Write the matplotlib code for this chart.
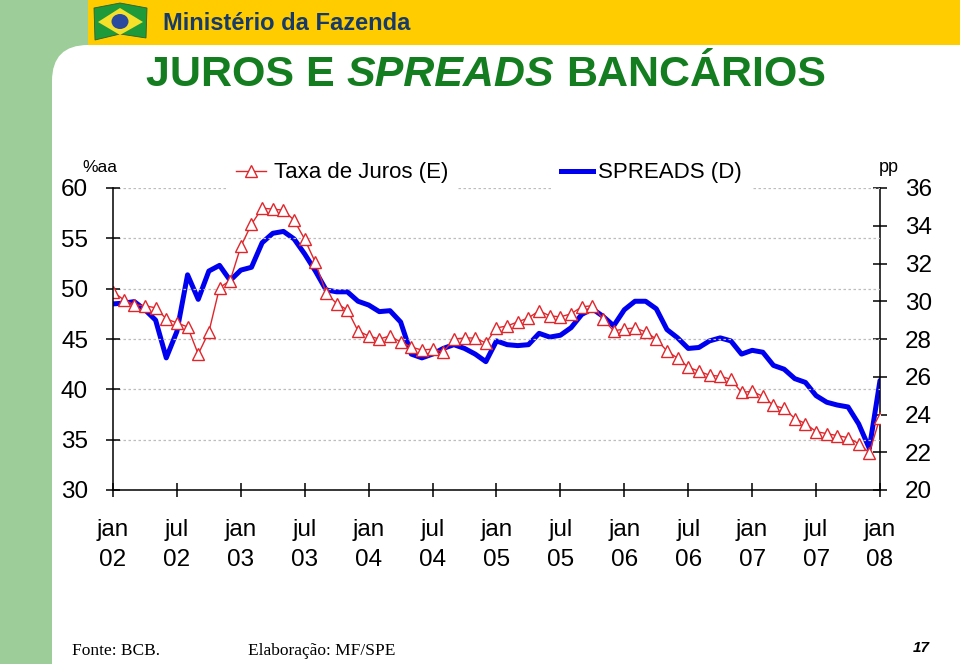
import numpy as np
import matplotlib
matplotlib.use("Agg")
import matplotlib.pyplot as plt
from matplotlib.patches import Rectangle, FancyBboxPatch, Polygon, Ellipse
from matplotlib.lines import Line2D

plt.rcParams['font.family'] = ['Liberation Sans', 'DejaVu Sans']

# monthly series, jan/02 ... jan/08
taxa_juros = [49.7, 48.9, 48.4, 48.3, 48.1, 47.0, 46.6, 46.2, 43.5, 45.7,
              50.1, 50.8, 54.2, 56.4, 58.0, 57.9, 57.8, 56.8, 54.9, 52.6,
              49.6, 48.5, 47.9, 45.8, 45.3, 45.0, 45.3, 44.7, 44.2, 43.9,
              44.0, 43.7, 45.0, 45.1, 45.1, 44.6, 46.1, 46.3, 46.7, 47.1,
              47.8, 47.3, 47.2, 47.5, 48.2, 48.3, 47.0, 45.8, 46.0, 46.1,
              45.7, 45.0, 43.8, 43.1, 42.2, 41.8, 41.4, 41.3, 41.0, 39.7,
              39.8, 39.3, 38.4, 38.1, 37.1, 36.6, 35.8, 35.6, 35.4, 35.2,
              34.6, 33.7, 37.2]
spreads = [29.86, 29.9, 29.98, 29.55, 29.0, 27.0, 28.4, 31.4, 30.1, 31.6,
           31.9, 31.1, 31.65, 31.8, 33.1, 33.6, 33.7, 33.3, 32.5, 31.6,
           30.6, 30.5, 30.5, 30.0, 29.8, 29.45, 29.5, 28.9, 27.2, 27.0,
           27.2, 27.5, 27.7, 27.5, 27.2, 26.8, 27.9, 27.7, 27.65, 27.7,
           28.3, 28.1, 28.2, 28.6, 29.3, 29.6, 29.2, 28.7, 29.55, 30.0,
           30.0, 29.6, 28.5, 28.06, 27.5, 27.55, 27.9, 28.06, 27.9, 27.2,
           27.4, 27.3, 26.6, 26.4, 25.9, 25.7, 25.0, 24.65, 24.5, 24.4,
           23.5, 22.2, 25.8]
tick_labels = ['jan\n02', 'jul\n02', 'jan\n03', 'jul\n03', 'jan\n04', 'jul\n04',
               'jan\n05', 'jul\n05', 'jan\n06', 'jul\n06', 'jan\n07', 'jul\n07',
               'jan\n08']

RED = '#e0262b'
BLUE = '#0000f0'
GREEN_TXT = '#137d1f'

fig = plt.figure(figsize=(9.6, 6.64), dpi=100)

# ---- slide background (pixel coords) ----
bg = fig.add_axes([0, 0, 1, 1], zorder=-1)
bg.set_xlim(0, 960)
bg.set_ylim(664, 0)
bg.axis('off')
bg.add_patch(Rectangle((0, 0), 120, 664, color='#9dcd98', lw=0))
bg.add_patch(FancyBboxPatch((52, 45), 1000, 700, boxstyle='round,pad=0,rounding_size=36',
                            fc='white', ec='none'))
bg.add_patch(Rectangle((88, 0), 872, 45, color='#ffcc00', lw=0))
# little flag
bg.add_patch(Polygon([(94, 8), (120, 3), (147, 8), (146, 38), (120, 34), (95, 40)],
                     closed=True, fc='#1f9a3a', ec='#2f5f2f', lw=0.6))
bg.add_patch(Polygon([(98, 22), (120, 8), (143, 22), (120, 35)], closed=True,
                     fc='#f5e12a', ec='none'))
bg.add_patch(Ellipse((120, 21.5), 17, 15, fc='#2a4aa0', ec='none'))
bg.text(163, 23, 'Ministério da Fazenda', fontsize=17, fontweight='bold',
        color='#173a68', va='center', ha='left')

# title with italic SPREADS
fig.canvas.draw()
r = fig.canvas.get_renderer()
parts = [('JUROS E', 'normal'), ('SPREADS', 'italic'), ('BANCÁRIOS', 'normal')]
gap = 12
texts = []
for s, st in parts:
    t = bg.text(0, 75, s, fontsize=31, fontweight='bold', style=st,
                color=GREEN_TXT, va='center', ha='left')
    texts.append(t)
widths = [t.get_window_extent(r).width for t in texts]
x = 486 - (sum(widths) + gap * (len(widths) - 1)) / 2
for t, w in zip(texts, widths):
    t.set_x(x)
    x += w + gap

bg.text(100, 167, '%aa', fontsize=12.5, ha='center', va='center')
bg.text(889, 167, 'pp', fontsize=13, ha='center', va='center')
bg.text(72, 651, 'Fonte: BCB.', fontsize=12.5, family='Liberation Serif',
        ha='left', va='center')
bg.text(248, 651, 'Elaboração: MF/SPE', fontsize=12.5, family='Liberation Serif',
        ha='left', va='center')
bg.text(930, 648, '17', fontsize=11, fontweight='bold', style='italic',
        ha='right', va='center')

# ---- chart ----
ax = fig.add_axes([113 / 960, 1 - 490 / 664, 767 / 960, 302 / 664])
ax2 = ax.twinx()
ax.set_zorder(ax2.get_zorder() + 1)
ax.patch.set_visible(False)

months = np.arange(len(taxa_juros))
ax2.plot(months, spreads, color=BLUE, lw=3.6, solid_joinstyle='round',
         solid_capstyle='round')
ax.plot(months, taxa_juros, color=RED, lw=1, marker='^', ms=8,
        mfc='white', mec=RED, mew=1)

ax.set_xlim(0, 72)
ax.set_ylim(30, 60)
ax2.set_ylim(20, 36)
ax.set_yticks(np.arange(30, 61, 5))
ax2.set_yticks(np.arange(20, 37, 2))
ax.set_xticks(np.arange(0, 73, 6))
ax.set_xticklabels(tick_labels, linespacing=1.45)

ax.grid(axis='y', color='#bdbdbd', lw=0.9, ls=(0, (2, 2)))
ax.set_axisbelow(True)
for a in (ax, ax2):
    a.spines['top'].set_visible(False)
ax.spines['right'].set_visible(False)
ax2.spines['left'].set_visible(False)
ax2.spines['bottom'].set_visible(False)
for sp in ('left', 'bottom'):
    ax.spines[sp].set_linewidth(1.1)
ax2.spines['right'].set_linewidth(1.1)

ax.tick_params(axis='y', direction='inout', length=10, width=1.1, pad=13,
               labelsize=17.5)
ax.tick_params(axis='x', direction='inout', length=10, width=1.1, pad=16,
               labelsize=17.5)
ax2.tick_params(axis='y', direction='inout', length=10, width=1.1, pad=13,
                labelsize=17.5)

h1 = Line2D([], [], color=RED, lw=1, marker='^', ms=8, mfc='white', mec=RED)
h2 = Line2D([], [], color=BLUE, lw=3.6)
leg1 = ax.legend([h1], ['Taxa de Juros (E)'], loc='center',
                 bbox_to_anchor=(0.2986, 1.05), fontsize=16, handlelength=1.35,
                 handletextpad=0.36, frameon=True, facecolor='white',
                 edgecolor='none', framealpha=1, fancybox=False)
ax.add_artist(leg1)
ax.legend([h2], ['SPREADS (D)'], loc='center', bbox_to_anchor=(0.702, 1.05),
          fontsize=16, handlelength=1.45, handletextpad=0.25, frameon=True,
          facecolor='white', edgecolor='none', framealpha=1, fancybox=False)

fig.savefig('out.png', dpi=100)
